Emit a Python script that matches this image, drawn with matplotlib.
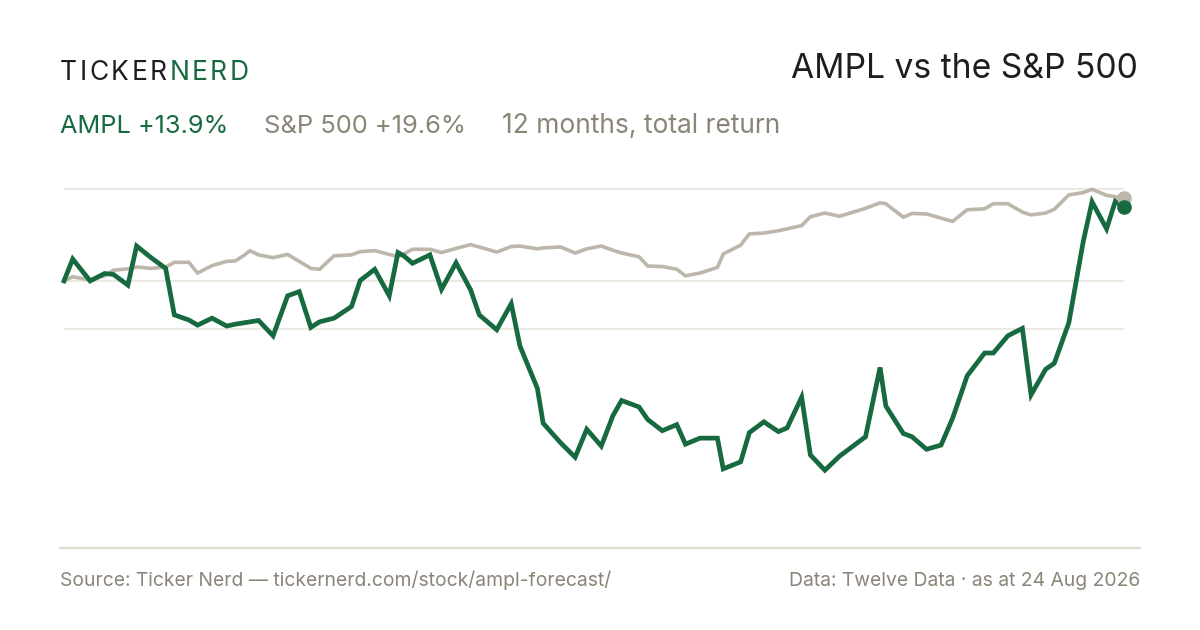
import matplotlib
matplotlib.use("Agg")
import matplotlib.pyplot as plt
import pandas as pd

# ---------------- data ----------------
start_date = pd.Timestamp("2025-08-24")
day_offsets = [0, 3, 9, 14, 17, 22, 25, 30, 35, 38, 43, 46, 51, 56, 59, 62, 64, 67,
               72, 77, 81, 85, 88, 93, 99, 102, 107, 112, 115, 117, 120, 126, 130,
               135, 140, 143, 149, 154, 157, 163, 165, 171, 176, 180, 185, 189, 192,
               198, 201, 206, 211, 214, 219, 225, 227, 233, 236, 241, 246, 249, 254,
               257, 262, 267, 276, 281, 283, 289, 292, 297, 302, 306, 311, 317, 320,
               325, 330, 333, 338, 341, 346, 351, 354, 359, 362, 365]

ampl_return = [0.0, 4.7, 0.0, 1.6, 1.4, -0.9, 7.5, 5.0, 2.7, -7.3, -8.4, -9.5, -8.0,
               -9.7, -9.3, -9.0, -8.8, -8.5, -11.8, -3.2, -2.3, -10.0, -8.8, -8.0,
               -5.5, 0.1, 2.5, -3.2, 6.1, 5.4, 3.8, 5.6, -1.8, 3.9, -1.9, -7.3,
               -10.5, -4.9, -14.0, -23.1, -30.6, -34.8, -37.9, -31.9, -35.5, -29.0,
               -25.7, -27.1, -29.8, -32.2, -30.9, -35.1, -33.8, -33.8, -40.4, -38.9,
               -32.6, -30.3, -32.4, -31.6, -25.0, -37.4, -40.7, -37.7, -33.5, -18.6,
               -26.9, -32.8, -33.5, -36.2, -35.3, -29.5, -20.4, -15.5, -15.5, -11.8,
               -10.2, -24.5, -19.0, -17.7, -9.0, 8.6, 17.0, 11.2, 17.1, 15.8]

spx_return = [0.0, 0.9, 0.2, 1.1, 2.3, 2.6, 3.0, 2.7, 3.0, 4.0, 4.0, 1.7, 3.3, 4.2,
              4.3, 5.5, 6.5, 5.6, 5.0, 5.7, 4.2, 2.7, 2.5, 5.4, 5.6, 6.3, 6.5, 5.7,
              5.2, 5.8, 6.8, 6.8, 6.1, 7.0, 7.8, 7.3, 6.2, 7.4, 7.5, 6.9, 7.1, 7.3,
              6.0, 6.9, 7.5, 6.6, 6.0, 5.2, 3.2, 3.1, 2.5, 1.1, 1.7, 2.9, 5.8, 7.7,
              10.1, 10.3, 10.8, 11.2, 11.9, 13.8, 14.6, 13.9, 15.6, 16.8, 16.6, 13.7,
              14.5, 14.4, 13.5, 12.8, 15.3, 15.5, 16.6, 16.6, 14.8, 14.2, 14.6, 15.4,
              18.5, 19.0, 19.7, 18.4, 18.1, 17.8]

grid_levels = [19.8, 0.0, -10.3]

brand_left = "TICKER"
brand_right = "NERD"
title = "AMPL vs the S&P 500"
legend_ampl = "AMPL +13.9%"
legend_spx = "S&P 500 +19.6%"
legend_period = "12 months, total return"
footer_left = "Source: Ticker Nerd \u2014 tickernerd.com/stock/ampl-forecast/"
footer_right = "Data: Twelve Data \u00b7 as at 24 Aug 2026"

dates = [start_date + pd.Timedelta(days=d) for d in day_offsets]

# ---------------- style ----------------
GREEN = "#176a3f"
GREY_LINE = "#bdb6aa"
GREY_TEXT = "#8a8576"
DARK = "#1e1e1e"
GRID = "#ece9e3"
RULE = "#e1ddd4"
FONT = ["Inter", "DejaVu Sans"]

W, H = 1200, 630
fig = plt.figure(figsize=(W / 100, H / 100), dpi=100, facecolor="white")
plt.rcParams["font.family"] = FONT


def fx(x):
    return x / W


def fy(y):
    return 1 - y / H


# axes covering the plotting region in pixels
ax_left, ax_right, ax_top, ax_bottom = 64, 1124, 180, 540
ax = fig.add_axes([fx(ax_left), fy(ax_bottom), (ax_right - ax_left) / W,
                   (ax_bottom - ax_top) / H])
ax.set_facecolor("none")
for s in ax.spines.values():
    s.set_visible(False)
ax.set_xticks([])
ax.set_yticks([])
ax.set_xlim(dates[0], dates[-1])
ax.set_ylim(-55.7, 21.7)

for g in grid_levels:
    ax.axhline(g, color=GRID, lw=1.4, zorder=1)

ax.plot(dates, spx_return, color=GREY_LINE, lw=2.6, solid_joinstyle="miter",
        zorder=3, clip_on=False)
ax.plot(dates, ampl_return, color=GREEN, lw=3.4, solid_joinstyle="miter",
        zorder=4, clip_on=False)
ax.plot([dates[-1]], [spx_return[-1]], "o", color=GREY_LINE, ms=10.5,
        mec="none", zorder=5, clip_on=False)
ax.plot([dates[-1]], [ampl_return[-1]], "o", color=GREEN, ms=10.5,
        mec="none", zorder=6, clip_on=False)

# footer rule
fig.add_artist(plt.Line2D([fx(60), fx(1140)], [fy(548), fy(548)],
                          color=RULE, lw=1.6))

renderer = fig.canvas.get_renderer()


def tracked(x, y, text, color, size, tracking):
    for ch in text:
        t = fig.text(fx(x), fy(y), ch, color=color, fontsize=size,
                     va="baseline", ha="left", family=FONT)
        w = t.get_window_extent(renderer).width
        x += w + tracking
    return x


xe = tracked(60, 79.5, brand_left, DARK, 19, 2.5)
tracked(xe, 79.5, brand_right, GREEN, 19, 2.5)

fig.text(fx(1138), fy(77.5), title, color=DARK, fontsize=24.2, ha="right",
         va="baseline")

sub_y = 132.7
fig.text(fx(60), fy(sub_y), legend_ampl, color=GREEN, fontsize=18.2,
         va="baseline")
fig.text(fx(263.5), fy(sub_y), legend_spx, color=GREY_TEXT, fontsize=18.4,
         va="baseline")
fig.text(fx(502), fy(sub_y), legend_period, color=GREY_TEXT, fontsize=19.0,
         va="baseline")

fig.text(fx(60), fy(586), footer_left, color=GREY_TEXT, fontsize=13.9,
         va="baseline")
fig.text(fx(1140), fy(586), footer_right, color=GREY_TEXT, fontsize=13.9,
         va="baseline", ha="right")

fig.savefig("out.png", dpi=100, facecolor="white")
